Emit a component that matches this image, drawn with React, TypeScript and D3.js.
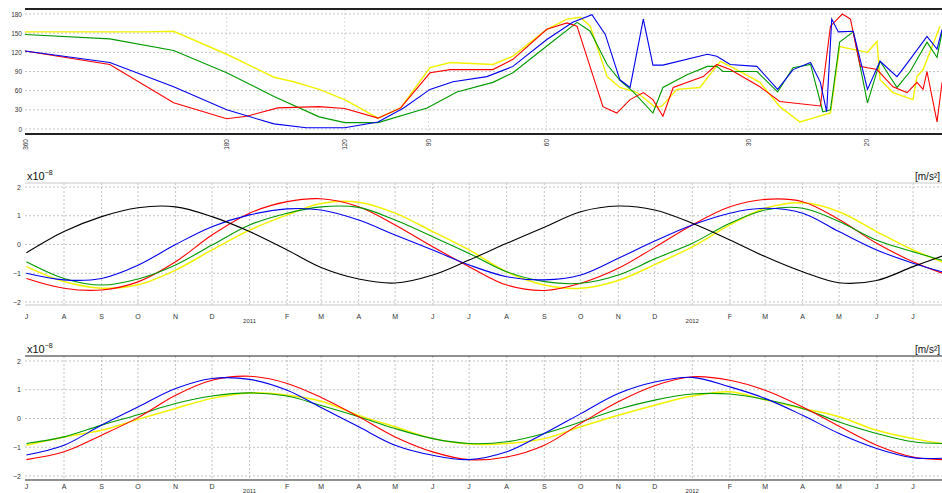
import React from "react";
import * as d3 from "d3";

const W = 942;
const H = 493;

// ---------- Top panel (period axis, days) ----------
const periodTicks = [360, 180, 120, 90, 60, 30, 20];
const phaseTicks = [0, 30, 60, 90, 120, 150, 180];

const redPeriods = [360, 269, 216, 180, 168, 151, 131, 120, 107, 99, 89.5, 83.5, 72.1, 67.3, 59.9, 55.9, 54.0, 49.4, 47.1, 45.0, 43.0, 41.6, 40.2, 38.8, 35.0, 33.4, 31.9, 28.8, 26.9, 23.4, 22.6, 21.7, 21.1, 20.4, 19.9, 19.26, 18.23, 17.37, 16.79, 16.44, 16.22, 15.67, 15.4];
const redPhase = [122, 101, 41, 16, 20, 33, 35, 32, 17, 33, 88, 93, 93, 109, 156, 166, 161, 35, 25, 46, 57, 46, 20, 65, 82, 101, 93, 66, 43, 36, 161, 180, 172, 98, 96, 93, 66, 57, 73, 62, 90, 11, 73];

const bluePeriods = [360, 269, 216, 180, 153, 137, 120, 107, 98, 89.5, 82.7, 73.6, 67.3, 59.9, 54.8, 51.3, 49.0, 46.6, 45.0, 43.0, 41.6, 40.2, 34.5, 33.4, 31.9, 29.1, 27.1, 25.7, 24.2, 23.4, 22.9, 22.5, 22.0, 20.9, 19.9, 19.06, 17.98, 17.19, 16.22, 15.67, 15.4];
const bluePhase = [122, 104, 66, 30, 8, 2, 2, 11, 33, 62, 74, 82, 98, 140, 167, 179, 148, 77, 65, 172, 100, 100, 117, 114, 101, 98, 62, 93, 104, 73, 27, 172, 152, 153, 62, 106, 82, 109, 145, 125, 156];

const greenPeriods = [360, 269, 216, 180, 153, 131, 120, 107, 90.4, 81.6, 72.1, 67.3, 59.9, 54.0, 51.6, 48.7, 46.6, 44.5, 41.6, 40.2, 37.0, 34.5, 33.4, 32.7, 29.1, 27.1, 25.7, 24.2, 23.2, 22.6, 21.9, 20.9, 19.9, 19.06, 17.98, 17.19, 16.22, 15.67, 15.4];
const greenPhase = [148, 141, 123, 88, 51, 19, 10, 10, 33, 58, 73, 88, 130, 167, 153, 101, 76, 58, 25, 65, 85, 98, 98, 90, 90, 58, 96, 101, 27, 30, 136, 152, 41, 106, 65, 90, 136, 112, 152];

const yellowPeriods = [360, 237, 216, 180, 153, 143, 131, 120, 107, 99, 89.5, 83.5, 72.1, 67.3, 59.9, 55.9, 53.4, 51.6, 48.7, 46.6, 43.9, 41.4, 40.4, 38.3, 35.4, 33.0, 31.6, 28.8, 26.9, 25.1, 22.6, 21.9, 19.9, 19.26, 19.06, 18.23, 17.02, 16.79, 16.44, 15.51];
const yellowPhase = [152, 152, 153, 117, 81, 74, 62, 46, 17, 33, 96, 104, 101, 114, 156, 172, 175, 161, 82, 65, 57, 35, 35, 62, 65, 106, 96, 73, 35, 11, 25, 129, 120, 137, 77, 57, 46, 82, 93, 161];

// ---------- Time panels ----------
const sampleDates = [
  "2010-07-01", "2010-08-01", "2010-09-01", "2010-10-01", "2010-11-01", "2010-12-01",
  "2011-01-01", "2011-02-01", "2011-03-01", "2011-04-01", "2011-05-01", "2011-06-01",
  "2011-07-01", "2011-08-01", "2011-09-01", "2011-10-01", "2011-11-01", "2011-12-01",
  "2012-01-01", "2012-02-01", "2012-03-01", "2012-04-01", "2012-05-01", "2012-06-01",
  "2012-07-01", "2012-07-25",
];
const monthInitials = ["J", "F", "M", "A", "M", "J", "J", "A", "S", "O", "N", "D"];
const valueTicks = [-2, -1, 0, 1, 2];

const midBlack = [-0.29, 0.45, 0.97, 1.28, 1.31, 0.97, 0.45, -0.19, -0.8, -1.2, -1.34, -1.06, -0.54, 0.04, 0.6, 1.14, 1.34, 1.2, 0.74, 0.16, -0.42, -0.95, -1.33, -1.25, -0.77, -0.4];
const midRed = [-1.18, -1.52, -1.58, -1.3, -0.6, 0.33, 1.09, 1.49, 1.59, 1.31, 0.68, -0.08, -0.77, -1.41, -1.6, -1.35, -0.83, -0.1, 0.68, 1.31, 1.57, 1.49, 0.87, 0.04, -0.6, -1.0];
const midBlue = [-1.0, -1.23, -1.18, -0.72, 0.0, 0.62, 1.03, 1.24, 1.2, 0.85, 0.33, -0.19, -0.71, -1.12, -1.23, -1.06, -0.48, 0.12, 0.68, 1.09, 1.26, 1.09, 0.45, -0.19, -0.65, -0.95];
const midGreen = [-0.6, -1.18, -1.41, -1.2, -0.71, -0.02, 0.68, 1.09, 1.31, 1.29, 0.85, 0.27, -0.31, -0.95, -1.29, -1.35, -1.06, -0.5, 0.04, 0.74, 1.2, 1.26, 0.8, 0.15, -0.25, -0.55];
const midYellow = [-0.77, -1.29, -1.52, -1.4, -0.89, -0.19, 0.5, 1.03, 1.43, 1.47, 1.09, 0.45, -0.19, -0.95, -1.41, -1.52, -1.25, -0.7, -0.08, 0.68, 1.26, 1.45, 1.14, 0.45, -0.19, -0.6];

const botRed = [-1.43, -1.16, -0.58, 0.03, 0.81, 1.33, 1.47, 1.22, 0.73, 0.06, -0.64, -1.16, -1.43, -1.34, -0.93, -0.17, 0.58, 1.14, 1.45, 1.33, 0.98, 0.4, -0.27, -0.93, -1.34, -1.43];
const botBlue = [-1.27, -0.93, -0.23, 0.4, 1.04, 1.39, 1.36, 0.98, 0.38, -0.29, -0.93, -1.28, -1.43, -1.16, -0.52, 0.17, 0.87, 1.27, 1.43, 1.1, 0.7, 0.11, -0.52, -1.04, -1.36, -1.38];
const botGreen = [-0.87, -0.64, -0.23, 0.13, 0.52, 0.78, 0.89, 0.78, 0.45, 0.06, -0.35, -0.7, -0.87, -0.81, -0.52, -0.12, 0.32, 0.64, 0.85, 0.85, 0.66, 0.35, -0.12, -0.52, -0.81, -0.87];
const botYellow = [-0.93, -0.64, -0.41, -0.03, 0.35, 0.7, 0.89, 0.81, 0.6, 0.11, -0.29, -0.7, -0.89, -0.87, -0.7, -0.29, 0.11, 0.46, 0.78, 0.93, 0.65, 0.35, 0.06, -0.41, -0.7, -0.87];

const COL = { red: "#ff0000", blue: "#0000ee", green: "#009a00", yellow: "#f2f200", black: "#000000" };
const FONT = "'Liberation Sans', Arial, sans-serif";

const parse = d3.utcParse("%Y-%m-%d");
const dates = sampleDates.map((s) => parse(s) as Date);

// scales
const X0 = 25;
const topX = d3.scaleLog().domain([360, 15]).range([X0, X0 + 670 * Math.log10(24)]);
const topY = d3.scaleLinear().domain([0, 180]).range([129, 14]);

const timeX = d3
  .scaleUtc()
  .domain([Date.UTC(2010, 6, 1), Date.UTC(2012, 7, 1)])
  .range([26.4, 26.4 + 1.2129 * 762]);
const midY = d3.scaleLinear().domain([-2, 2]).range([302, 187]);
const botY = d3.scaleLinear().domain([-2, 2]).range([476, 361]);

const monthTicks = d3.utcMonth.range(new Date(Date.UTC(2010, 6, 1)), new Date(Date.UTC(2012, 7, 2)));

function periodLine(periods: number[], vals: number[]) {
  const gen = d3
    .line<number>()
    .x((_, i) => topX(periods[i]))
    .y((v) => topY(v));
  return gen(vals) || "";
}

function timeLine(vals: number[], y: d3.ScaleLinear<number, number>) {
  const gen = d3
    .line<number>()
    .x((_, i) => timeX(dates[i]))
    .y((v) => y(v))
    .curve(d3.curveCatmullRom.alpha(0.5));
  return gen(vals) || "";
}

const gridStyle = { stroke: "#b4b4b4", strokeWidth: 0.8, strokeDasharray: "2,2" };

function TimePanel({
  y,
  top,
  bottom,
  frameColor,
  labelY,
  series,
}: {
  y: d3.ScaleLinear<number, number>;
  top: number;
  bottom: number;
  frameColor: string;
  labelY: number;
  series: { vals: number[]; color: string; w: number }[];
}) {
  const id = "clip" + top;
  return (
    <g>
      <defs>
        <clipPath id={id}>
          <rect x={X0} y={top} width={W - X0} height={bottom - top} />
        </clipPath>
      </defs>
      {valueTicks.map((t) => (
        <g key={"h" + t}>
          <line x1={X0} x2={W} y1={y(t)} y2={y(t)} style={gridStyle} />
          <text x={X0 - 4} y={y(t) + 2.5} fontSize={7} textAnchor="end" fill="#333" fontFamily={FONT}>
            {t === -1 ? "\u22121" : t === -2 ? "\u22122" : String(t)}
          </text>
        </g>
      ))}
      {monthTicks.map((d, i) => {
        const x = timeX(d);
        if (x > W) return null;
        const m = d.getUTCMonth();
        return (
          <g key={"v" + i}>
            {i > 0 && <line x1={x} x2={x} y1={top} y2={bottom} style={gridStyle} />}
            {m === 0 ? (
              <text x={x} y={labelY + 4} fontSize={6} textAnchor="middle" fill="#333" fontFamily={FONT}>
                {d.getUTCFullYear()}
              </text>
            ) : (
              <text x={x} y={labelY} fontSize={7} textAnchor="middle" fill="#333" fontFamily={FONT}>
                {monthInitials[m]}
              </text>
            )}
          </g>
        );
      })}
      <line x1={X0} x2={W} y1={top} y2={top} stroke={frameColor} strokeWidth={1.2} />
      <line x1={X0} x2={W} y1={bottom} y2={bottom} stroke={frameColor} strokeWidth={1.2} />
      <g clipPath={`url(#${id})`}>
        {series.map((s, i) => (
          <path key={i} d={timeLine(s.vals, y)} fill="none" stroke={s.color} strokeWidth={s.w} />
        ))}
      </g>
      <text x={27} y={top - 3} fontSize={11} fill="#111" fontFamily={FONT}>
        x10
        <tspan fontSize={7} dy={-5}>
          {"\u22128"}
        </tspan>
      </text>
      <text x={W - 2} y={top - 3} fontSize={10} textAnchor="end" fill="#111" fontFamily={FONT}>
        [m/s²]
      </text>
    </g>
  );
}

export default function App() {
  const topSeries = [
    { p: yellowPeriods, v: yellowPhase, c: COL.yellow, w: 1.4 },
    { p: greenPeriods, v: greenPhase, c: COL.green, w: 1.1 },
    { p: redPeriods, v: redPhase, c: COL.red, w: 1.1 },
    { p: bluePeriods, v: bluePhase, c: COL.blue, w: 1.1 },
  ];
  return (
    <svg width={W} height={H} style={{ position: "absolute", left: 0, top: 0, background: "#fff" }}>
      <rect x={0} y={0} width={W} height={H} fill="#fff" />
      <defs>
        <clipPath id="clipTop">
          <rect x={X0} y={9} width={W - X0} height={125} />
        </clipPath>
      </defs>
      {/* top panel */}
      {phaseTicks.map((t) => (
        <g key={"pt" + t}>
          <line x1={X0} x2={W} y1={topY(t)} y2={topY(t)} style={gridStyle} />
          <text x={22} y={topY(t) + 2.5} fontSize={6.5} textAnchor="end" fill="#333" fontFamily={FONT}>
            {t}
          </text>
        </g>
      ))}
      {periodTicks.map((p) => (
        <g key={"px" + p}>
          {p !== 360 && <line x1={topX(p)} x2={topX(p)} y1={9} y2={134} style={{ ...gridStyle, stroke: "#d0d0d0" }} />}
          <text
            transform={`translate(${topX(p) + 2.5},139) rotate(-90)`}
            fontSize={6.5}
            textAnchor="end"
            fill="#333"
            fontFamily={FONT}
          >
            {p}
          </text>
        </g>
      ))}
      <line x1={X0} x2={W} y1={9} y2={9} stroke="#222" strokeWidth={1.8} />
      <line x1={X0} x2={W} y1={134} y2={134} stroke="#222" strokeWidth={1.8} />
      <g clipPath="url(#clipTop)">
        {topSeries.map((s, i) => (
          <path key={i} d={periodLine(s.p, s.v)} fill="none" stroke={s.c} strokeWidth={s.w} />
        ))}
      </g>

      {/* middle panel */}
      <TimePanel
        y={midY}
        top={183}
        bottom={305}
        frameColor="#c8c8c8"
        labelY={319}
        series={[
          { vals: midYellow, color: COL.yellow, w: 1.5 },
          { vals: midRed, color: COL.red, w: 1.1 },
          { vals: midGreen, color: COL.green, w: 1.1 },
          { vals: midBlue, color: COL.blue, w: 1.1 },
          { vals: midBlack, color: COL.black, w: 1.1 },
        ]}
      />

      {/* bottom panel */}
      <TimePanel
        y={botY}
        top={356}
        bottom={480}
        frameColor="#222"
        labelY={489}
        series={[
          { vals: botYellow, color: COL.yellow, w: 1.5 },
          { vals: botGreen, color: COL.green, w: 1.1 },
          { vals: botRed, color: COL.red, w: 1.1 },
          { vals: botBlue, color: COL.blue, w: 1.1 },
        ]}
      />
    </svg>
  );
}
